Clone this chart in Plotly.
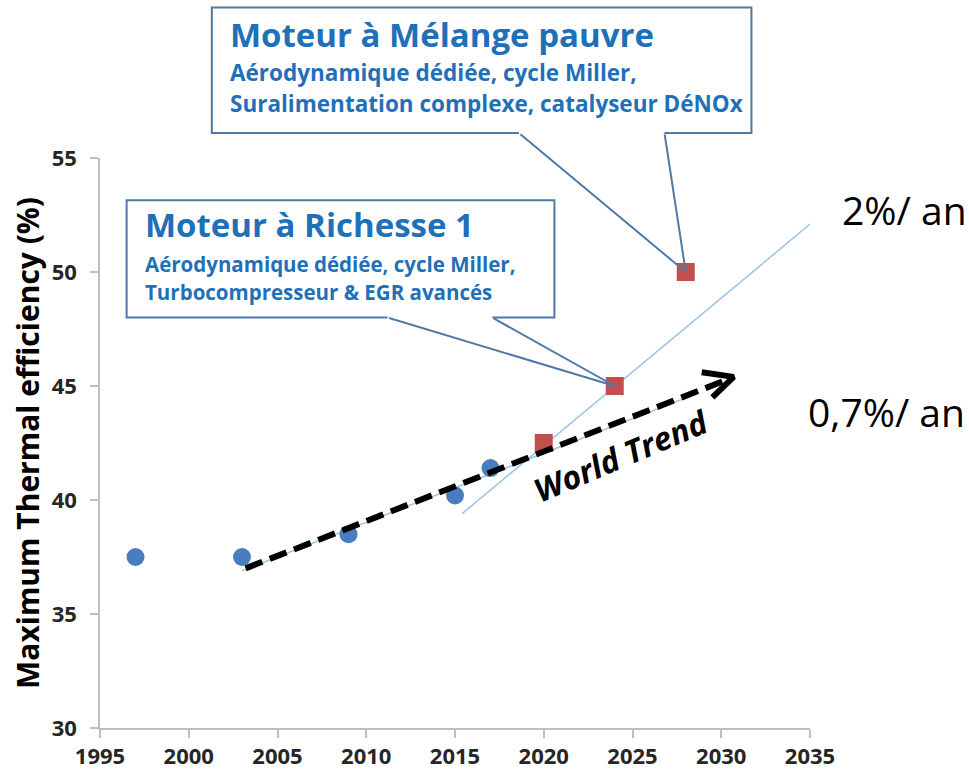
import plotly.graph_objects as go

# ---- data ----
world_years = [1997, 2003, 2009, 2015, 2017]
world_eff = [37.5, 37.5, 38.5, 40.2, 41.4]
target_years = [2020, 2024, 2028]
target_eff = [42.5, 45.0, 50.0]

trend2_x = [2015.4, 2035.0]
trend2_y = [39.4, 52.1]
trend07_x = [2003.0, 2028.4]
trend07_y = [36.9, 44.6]
arrow_x = [2003.2, 2030.4]
arrow_y = [37.0, 45.3]
head_x = [2028.9, 2030.7, 2029.5]
head_y = [45.6, 45.4, 44.5]

x_ticks = list(range(1995, 2040, 5))
y_ticks = [30, 35, 40, 45, 50, 55]
XR = [1995, 2035]
YR = [30, 55]

BLUE = "#4A7DBF"
RED = "#C0504D"
BOXC = "#4F79A8"
TXT = "#1F70B8"
FONT = "Open Sans"


def px(v):
    return (v - XR[0]) / (XR[1] - XR[0])


def py(v):
    return (v - YR[0]) / (YR[1] - YR[0])


fig = go.Figure()

fig.add_trace(go.Scatter(x=trend2_x, y=trend2_y, mode="lines",
                         line=dict(color="#9DC3E6", width=1.5), hoverinfo="skip"))
fig.add_trace(go.Scatter(x=trend07_x, y=trend07_y, mode="lines",
                         line=dict(color="#9DC3E6", width=1.5), hoverinfo="skip"))
fig.add_trace(go.Scatter(x=world_years, y=world_eff, mode="markers",
                         marker=dict(symbol="circle", size=18, color=BLUE)))
fig.add_trace(go.Scatter(x=target_years, y=target_eff, mode="markers",
                         marker=dict(symbol="square", size=18, color=RED)))
fig.add_trace(go.Scatter(x=arrow_x, y=arrow_y, mode="lines",
                         line=dict(color="black", width=6, dash="18px,8px"), hoverinfo="skip"))
fig.add_trace(go.Scatter(x=head_x, y=head_y, mode="lines",
                         line=dict(color="black", width=6), hoverinfo="skip"))

shapes = []
annotations = []


def callout(x0, x1, y0, y1, gap0, gap1, tipx, tipy):
    path = (f"M {px(gap0)},{py(y0)} L {px(x0)},{py(y0)} L {px(x0)},{py(y1)} "
            f"L {px(x1)},{py(y1)} L {px(x1)},{py(y0)} L {px(gap1)},{py(y0)}")
    shapes.append(dict(type="rect", xref="paper", yref="paper",
                       x0=px(x0), x1=px(x1), y0=py(y0), y1=py(y1),
                       fillcolor="white", line=dict(width=0), layer="above"))
    shapes.append(dict(type="path", xref="paper", yref="paper", path=path,
                       line=dict(color=BOXC, width=2), layer="above"))
    for g in (gap0, gap1):
        annotations.append(dict(x=tipx, y=tipy, xref="x", yref="y",
                                ax=g, ay=y0, axref="x", ayref="y",
                                showarrow=True, arrowhead=0, arrowwidth=2,
                                arrowcolor=BOXC, text="", standoff=0))


callout(2001.3, 2031.7, 56.1, 61.6, 2018.6, 2026.8, 2028, 50)
callout(1996.5, 2020.6, 48.0, 53.15, 2011.2, 2017.1, 2024, 45)


def txt(x, y, s, size, bold=True, color=TXT, xanchor="left", xref="x", yref="y", angle=0, italic=False):
    annotations.append(dict(x=x, y=y, xref=xref, yref=yref, text=s, showarrow=False,
                            xanchor=xanchor, yanchor="middle", textangle=angle,
                            font=dict(family=FONT, size=size, color=color,
                                      weight="bold" if bold else "normal",
                                      style="italic" if italic else "normal")))


txt(px(2002.2), py(60.4), "Moteur à Mélange pauvre", 33, xref="paper", yref="paper")
txt(px(2002.2), py(58.73), "Aérodynamique dédiée, cycle Miller,", 22.5, xref="paper", yref="paper")
txt(px(2002.2), py(57.41), "Suralimentation complexe, catalyseur DéNOx", 22.5, xref="paper", yref="paper")
txt(px(1997.4), py(52.1), "Moteur à Richesse 1", 33, xref="paper", yref="paper")
txt(px(1997.4), py(50.35), "Aérodynamique dédiée, cycle Miller,", 20.5, xref="paper", yref="paper")
txt(px(1997.4), py(49.12), "Turbocompresseur & EGR avancés", 20.5, xref="paper", yref="paper")

txt(2024.3, 41.97, "World Trend", 32, bold=True, color="black", xanchor="center", angle=-23, italic=True)
txt(px(2040.3), py(52.72), "2%/ an", 39, bold=False, color="black", xanchor="center", xref="paper", yref="paper")
txt(px(2039.3), py(43.86), "0,7%/ an", 39, bold=False, color="black", xanchor="center", xref="paper", yref="paper")

axis_common = dict(showgrid=False, zeroline=False, showline=True, linecolor="#BFBFBF",
                   linewidth=1.5, ticks="outside", ticklen=8, tickcolor="#BFBFBF", tickwidth=1.5,
                   automargin=False,
                   tickfont=dict(family=FONT, size=22, color="#262626", weight="bold"))

fig.update_layout(
    width=969, height=770,
    margin=dict(l=100, r=159, t=158, b=42),
    plot_bgcolor="white", paper_bgcolor="white",
    showlegend=False,
    xaxis=dict(range=XR, tickvals=x_ticks, **axis_common),
    yaxis=dict(range=YR, tickvals=y_ticks, ticklabelstandoff=9,
               title=dict(text="Maximum Thermal efficiency (%)", standoff=3,
                          font=dict(family=FONT, size=30, color="black", weight="bold")),
               **axis_common),
    shapes=shapes,
    annotations=annotations,
)

fig.write_html("out.html", config={"displayModeBar": False},
               post_script="document.body.style.margin='0';document.body.style.overflow='hidden';")
